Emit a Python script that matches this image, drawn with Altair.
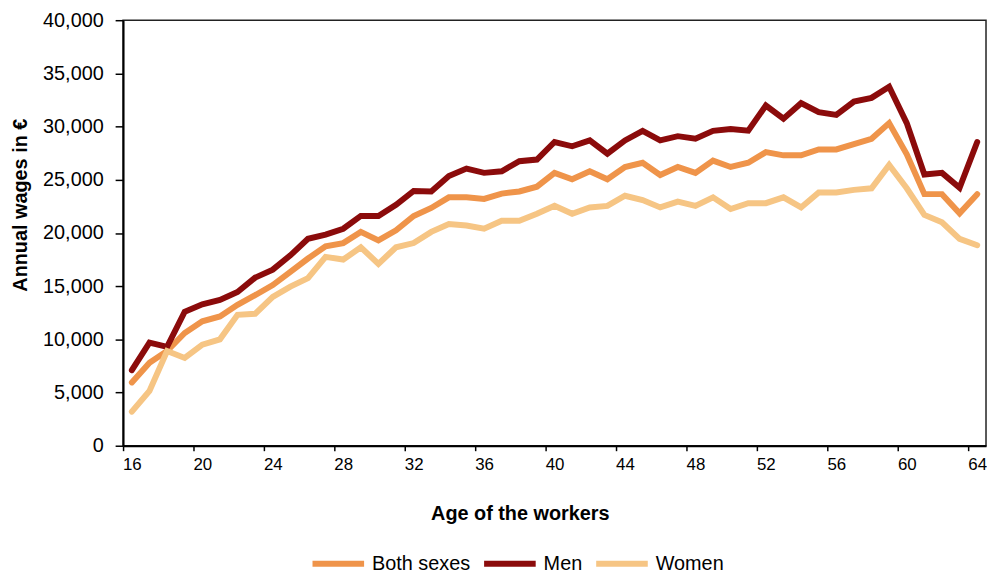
import altair as alt
import pandas as pd

# ---- data ----
ages = list(range(16, 65))
both = [5950, 7800, 8900, 10600, 11700, 12150, 13250, 14150, 15100, 16350,
        17600, 18750, 19050, 20100, 19300, 20250, 21600, 22350, 23350, 23350,
        23200, 23700, 23900, 24350, 25650, 25050, 25800, 25050, 26200, 26600,
        25450, 26200, 25650, 26800, 26200, 26600, 27600, 27300, 27300, 27850,
        27850, 28350, 28850, 30330, 27400, 23650, 23650, 21850, 23650]
men = [7100, 9700, 9300, 12600, 13300, 13700, 14450, 15800, 16550, 17900,
       19450, 19850, 20400, 21600, 21600, 22650, 23950, 23900, 25350, 26050,
       25650, 25800, 26750, 26900, 28550, 28150, 28700, 27450, 28700, 29600,
       28700, 29100, 28870, 29600, 29780, 29620, 31980, 30740, 32200, 31350,
       31100, 32350, 32700, 33750, 30330, 25500, 25650, 24250, 28550]
women = [3200, 5150, 8900, 8250, 9500, 10000, 12300, 12400, 14000, 14950,
         15750, 17750, 17500, 18650, 17100, 18650, 19050, 20100, 20850, 20700,
         20400, 21150, 21150, 21800, 22550, 21800, 22400, 22550, 23500, 23100,
         22400, 22950, 22550, 23350, 22250, 22800, 22800, 23350, 22400, 23800,
         23800, 24050, 24200, 26400, 24200, 21700, 21000, 19450, 18850]
series = ["Both sexes", "Men", "Women"]
colors = ["#EF944A", "#8B0B0B", "#F6C584"]
x_ticks = list(range(16, 65, 4))
y_ticks = list(range(0, 40001, 5000))

rows = []
for name, vals in zip(series, [both, men, women]):
    for a, v in zip(ages, vals):
        rows.append({"age": a, "wage": v, "series": name})
df = pd.DataFrame(rows)

FONT = "Liberation Sans"
W, H = 870, 429
band = W / len(ages)

chart = alt.Chart(df).mark_line(strokeWidth=6, strokeCap="round").encode(
    x=alt.X(
        "age:Q",
        scale=alt.Scale(domain=[15.5, 64.5], nice=False, zero=False),
        axis=alt.Axis(
            values=x_ticks, title="Age of the workers", grid=False,
            tickSize=5, tickWidth=1.5, tickColor="black",
            tickOffset=-band / 2, labelOffset=band / 2,
            labelPadding=6, labelFont=FONT, labelFontSize=17, labelColor="black",
            domainColor="black", domainWidth=2,
            titleFont=FONT, titleFontSize=20, titleFontWeight="bold", titleColor="black",
            titleX=400, titleY=68, titleBaseline="middle", titleAlign="center",
        ),
    ),
    y=alt.Y(
        "wage:Q",
        scale=alt.Scale(domain=[0, 40000], nice=False),
        axis=alt.Axis(
            values=y_ticks, format=",.0f", title="Annual wages in €", grid=False,
            tickSize=8, tickWidth=1.5, tickColor="black",
            labelPadding=12, labelFont=FONT, labelFontSize=20, labelColor="black",
            domainColor="black", domainWidth=2,
            titleFont=FONT, titleFontSize=20, titleFontWeight="bold", titleColor="black",
            titleX=-103, titleY=186, titleBaseline="middle", titleAlign="center",
            titleAngle=270,
        ),
    ),
    color=alt.Color(
        "series:N",
        scale=alt.Scale(domain=series, range=colors),
        legend=alt.Legend(
            orient="none", legendX=188, legendY=519, direction="horizontal",
            title=None, symbolType="stroke", symbolSize=2704, symbolStrokeWidth=6,
            labelFont=FONT, labelFontSize=20, labelColor="black",
            labelOffset=5, columnPadding=2, padding=0,
        ),
    ),
).properties(
    width=W, height=H,
    autosize=alt.AutoSizeParams(type="none"),
    padding={"left": 116, "top": 10, "right": 1, "bottom": 126},
).configure_view(stroke="#222222", strokeWidth=1.5)

chart.save("out.html", embed_options={"renderer": "svg", "actions": False})
